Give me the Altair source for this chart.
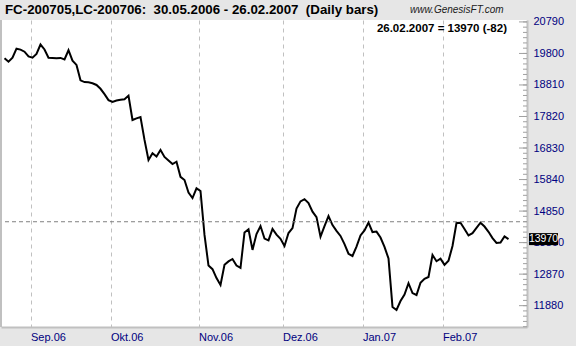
import altair as alt
import pandas as pd

# Daily closes (trading-day index 0 = 23.08.2006 ... 126 = 26.02.2007)
close = [19650, 19540, 19665, 19950, 19920, 19855, 19705, 19665, 19785, 20080,
         19925, 19665, 19660, 19650, 19660, 19610, 19900, 19575, 19440, 18955,
         18900, 18895, 18865, 18810, 18690, 18520, 18335, 18275, 18320, 18345,
         18360, 18475, 17710, 17760, 17805, 17085, 16455, 16665, 16565, 16770,
         16550, 16440, 16325, 16400, 15925, 15825, 15430, 15260, 15565, 15480,
         14100, 13140, 13025, 12745, 12530, 13165, 13270, 13345, 13140, 13065,
         14180, 14280, 13630, 14130, 14380, 13985, 13930, 14290, 14110, 13980,
         13755, 14160, 14315, 14930, 15155, 15225, 15100, 14830, 14660, 14045,
         14380, 14695, 14410, 14230, 14070, 13815, 13510, 13440, 13735, 14085,
         14245, 14490, 14190, 14205, 14020, 13725, 13360, 11840, 11745, 12025,
         12230, 12585, 12275, 12215, 12600, 12725, 12780, 13470, 13275, 13355,
         13160, 13290, 13755, 14475, 14485, 14290, 14085, 14155, 14320, 14485,
         14365, 14200, 14000, 13850, 13865, 14052, 13970]

month_labels = ["Sep.06", "Okt.06", "Nov.06", "Dez.06", "Jan.07", "Feb.07"]
month_start = [7, 27, 49, 70, 90, 110]   # trading-day index of first day of month

y_ticks = [11880, 12870, 13860, 14850, 15840, 16830, 17820, 18810, 19800, 20790]
minor_step = 165

NB = "\u00a0"
title_text = f"FC-200705,LC-200706:{NB}{NB}30.05.2006 - 26.02.2007{NB}{NB}(Daily bars)"
site_text = "www.GenesisFT.com"
last_date = "26.02.2007"
last_value = 13970
last_change = -82
level_value = 14515

FONT = "Liberation Sans"
NAVY = "#000080"
GREY = "#c0c0c0"
W, H = 526, 307

df = pd.DataFrame({"i": list(range(len(close))), "v": close})
xs = alt.Scale(domain=[-0.875, 130.625], nice=False, zero=False)
ys = alt.Scale(domain=[11210, 20850], nice=False, zero=False)

grid_vals = [m - 0.5 for m in month_start]
label_expr = "".join(
    f"datum.value == {g} ? '{lab}' : " for g, lab in zip(grid_vals, month_labels)
) + "''"

y_axis = alt.Axis(
    orient="right", values=y_ticks, format="d", grid=False, ticks=False,
    domainColor=GREY, domainWidth=2, labelColor=NAVY, labelFont=FONT,
    labelFontSize=11, labelPadding=6, labelBaseline="middle", title=None,
    labelFlush=False, labelOverlap=False)


def Y(field="v:Q"):
    return alt.Y(field, scale=ys, axis=y_axis)


line = alt.Chart(df).mark_line(color="black", strokeWidth=2).encode(
    x=alt.X("i:Q", scale=xs, axis=alt.Axis(
        values=grid_vals, labelExpr=label_expr, grid=True, gridDash=[4, 4],
        gridColor=GREY, gridWidth=1, ticks=False, domainColor=GREY, domainWidth=2,
        labelAlign="left", labelBaseline="top", labelPadding=4, labelColor=NAVY,
        labelFont=FONT, labelFontSize=11, title=None, labelFlush=False,
        labelOverlap=False)),
    y=Y(),
)

level = alt.Chart(pd.DataFrame({"v": [level_value]})).mark_rule(
    color="#808080", strokeDash=[4, 3], strokeWidth=1
).encode(y=Y())

t = y_ticks[0]
while t - minor_step >= 11210:
    t -= minor_step
minor_vals = [t + minor_step * k for k in range(0, 200) if t + minor_step * k <= y_ticks[-1]]

minor = alt.Chart(pd.DataFrame({"v": minor_vals})).mark_rule(color="#a0a0a0").encode(
    y=Y(), x=alt.value(W - 4), x2=alt.value(W))
major = alt.Chart(pd.DataFrame({"v": y_ticks})).mark_rule(color="#a0a0a0").encode(
    y=Y(), x=alt.value(W - 8), x2=alt.value(W))

one = pd.DataFrame({"a": [0]})
left_border = alt.Chart(one).mark_rule(color=GREY, strokeWidth=2).encode(
    x=alt.value(0), y=alt.value(0), y2=alt.value(H))

title = alt.Chart(pd.DataFrame({"t": [title_text]})).mark_text(
    align="left", baseline="middle", font=FONT, fontSize=13.3, fontWeight="bold",
    color="black").encode(x=alt.value(4), y=alt.value(-10), text="t:N")

site = alt.Chart(pd.DataFrame({"t": [site_text]})).mark_text(
    align="left", baseline="middle", font=FONT, fontSize=10, fontStyle="italic",
    color="#202020").encode(x=alt.value(409), y=alt.value(-10), text="t:N")

note = alt.Chart(pd.DataFrame({"t": [f"{last_date} = {last_value} ({last_change})"]})).mark_text(
    align="right", baseline="middle", font=FONT, fontSize=11.5, fontWeight="bold",
    color="black").encode(x=alt.value(506), y=alt.value(9), text="t:N")

box_df = pd.DataFrame({"v": [last_value], "t": [str(last_value)]})
box = alt.Chart(box_df).mark_point(
    shape="M-1,-0.414L1,-0.414L1,0.414L-1,0.414Z", filled=True, color="black",
    size=841, opacity=1, strokeWidth=0).encode(
    x=alt.value(542.5), y=Y())
box_text = alt.Chart(box_df).mark_text(
    align="center", baseline="middle", font=FONT, fontSize=10.5, color="white").encode(
    x=alt.value(542.5), y=Y(), text="t:N")

chart = alt.layer(line, level, minor, major, left_border, title, site, note, box, box_text).properties(
    width=W, height=H,
    padding={"left": 1, "top": 20, "right": 49, "bottom": 19},
    autosize=alt.AutoSizeParams(type="none"),
    background="#e6e6e6",
).configure_view(fill="white", strokeWidth=0)

chart.save("out.html", embed_options={"renderer": "svg", "actions": False})
